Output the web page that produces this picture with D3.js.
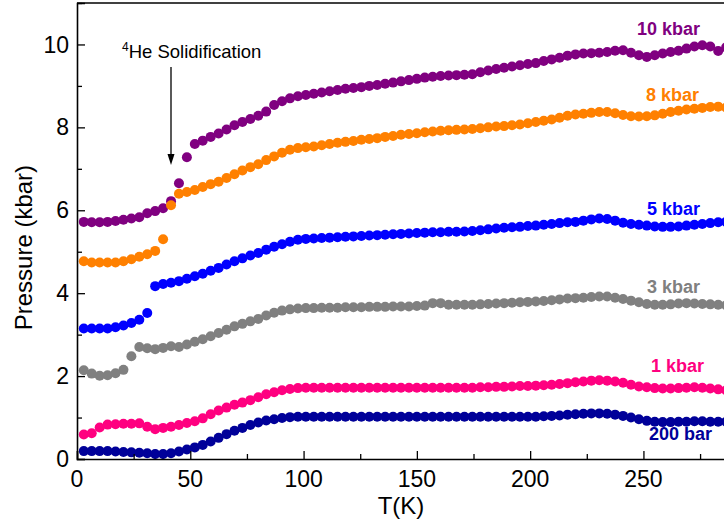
<!DOCTYPE html>
<html>
<head>
<meta charset="utf-8">
<script src="https://cdn.jsdelivr.net/npm/d3@7"></script>
<style>
  body { margin: 0; background: #fff; }
  svg { display: block; }
  text { font-family: "Liberation Sans", Arial, sans-serif; }
</style>
</head>
<body>
<svg width="724" height="528"></svg>
<script>
// temperature grid (K) shared by all runs
const temps = [3,6.5,10,13.5,17,20.5,24,27.5,31,34.5,
  38,41.5,45,48.5,52,55.5,59,62.5,66,69.5,
  73,76.5,80,83.5,87,90.5,94,97.5,101,104.5,
  108,111.5,115,118.5,122,125.5,129,132.5,136,139.5,
  143,146.5,150,153.5,157,160.5,164,167.5,171,174.5,
  178,181.5,185,188.5,192,195.5,199,202.5,206,209.5,
  213,216.5,220,223.5,227,230.5,234,237.5,241,244.5,
  248,251.5,255,258.5,262,265.5,269,272.5,276,279.5,
  283,286.5];

// pressure (kbar) for each run
const p10 = [5.72,5.71,5.71,5.72,5.74,5.77,5.80,5.83,5.93,5.98,
  6.05,6.22,6.65,7.28,7.60,7.68,7.77,7.85,7.95,8.05,
  8.13,8.20,8.28,8.38,8.54,8.63,8.70,8.75,8.78,8.81,
  8.84,8.87,8.90,8.93,8.95,8.97,9.00,9.02,9.05,9.08,
  9.11,9.14,9.17,9.20,9.22,9.24,9.25,9.26,9.27,9.28,
  9.33,9.37,9.41,9.44,9.47,9.50,9.53,9.55,9.60,9.64,
  9.68,9.73,9.76,9.78,9.79,9.80,9.82,9.85,9.86,9.80,
  9.74,9.70,9.74,9.78,9.82,9.85,9.90,9.95,9.98,9.95,
  9.84,9.93];
const p8 = [4.77,4.74,4.74,4.74,4.74,4.77,4.82,4.88,4.94,5.02,
  5.30,6.12,6.40,6.44,6.49,6.56,6.63,6.69,6.78,6.87,
  6.96,7.04,7.11,7.21,7.30,7.39,7.46,7.50,7.52,7.54,
  7.57,7.60,7.63,7.65,7.67,7.70,7.72,7.74,7.77,7.79,
  7.82,7.84,7.86,7.88,7.90,7.92,7.93,7.94,7.95,7.96,
  7.98,8.00,8.02,8.03,8.05,8.07,8.10,8.13,8.16,8.19,
  8.23,8.28,8.31,8.33,8.35,8.37,8.37,8.34,8.30,8.27,
  8.26,8.27,8.29,8.33,8.37,8.40,8.43,8.45,8.47,8.49,
  8.50,8.48];
const p5 = [3.15,3.15,3.15,3.15,3.18,3.22,3.28,3.36,3.52,4.17,
  4.22,4.25,4.29,4.35,4.41,4.47,4.54,4.61,4.69,4.77,
  4.84,4.91,4.97,5.05,5.12,5.18,5.24,5.29,5.31,5.32,
  5.33,5.34,5.35,5.36,5.37,5.38,5.39,5.40,5.41,5.42,
  5.43,5.44,5.45,5.46,5.47,5.47,5.48,5.48,5.49,5.50,
  5.52,5.54,5.56,5.58,5.59,5.60,5.62,5.63,5.65,5.67,
  5.69,5.71,5.72,5.75,5.78,5.80,5.79,5.75,5.70,5.67,
  5.65,5.63,5.61,5.60,5.60,5.61,5.63,5.65,5.67,5.69,
  5.71,5.72];
const p3 = [2.14,2.06,2.01,2.02,2.07,2.15,2.48,2.70,2.67,2.65,
  2.68,2.72,2.70,2.76,2.83,2.89,2.96,3.04,3.12,3.20,
  3.26,3.32,3.38,3.46,3.53,3.58,3.61,3.63,3.64,3.64,
  3.65,3.65,3.65,3.66,3.66,3.66,3.67,3.67,3.67,3.68,
  3.68,3.68,3.69,3.70,3.76,3.76,3.72,3.72,3.72,3.72,
  3.73,3.74,3.75,3.76,3.77,3.78,3.79,3.80,3.81,3.83,
  3.85,3.87,3.88,3.89,3.91,3.92,3.92,3.89,3.86,3.82,
  3.78,3.74,3.72,3.72,3.73,3.75,3.76,3.75,3.74,3.73,
  3.72,3.71];
const p1 = [0.59,0.62,0.76,0.83,0.84,0.85,0.85,0.86,0.78,0.72,
  0.75,0.78,0.82,0.87,0.91,0.98,1.08,1.17,1.24,1.31,
  1.36,1.42,1.49,1.56,1.61,1.66,1.69,1.71,1.72,1.72,
  1.72,1.72,1.72,1.72,1.72,1.72,1.72,1.72,1.72,1.72,
  1.72,1.72,1.72,1.72,1.72,1.72,1.72,1.72,1.72,1.72,
  1.73,1.73,1.74,1.74,1.75,1.76,1.76,1.77,1.78,1.79,
  1.81,1.83,1.85,1.87,1.89,1.90,1.89,1.87,1.84,1.79,
  1.75,1.73,1.71,1.70,1.70,1.71,1.72,1.73,1.72,1.70,
  1.68,1.66];
const p02 = [0.19,0.19,0.19,0.19,0.18,0.17,0.16,0.15,0.14,0.12,
  0.12,0.14,0.18,0.23,0.28,0.34,0.42,0.51,0.60,0.68,
  0.75,0.82,0.88,0.93,0.96,0.99,1.01,1.02,1.02,1.02,
  1.02,1.02,1.02,1.02,1.02,1.02,1.02,1.02,1.02,1.02,
  1.02,1.02,1.02,1.02,1.02,1.02,1.02,1.02,1.02,1.02,
  1.02,1.02,1.02,1.02,1.02,1.02,1.02,1.02,1.03,1.04,
  1.05,1.07,1.08,1.09,1.10,1.10,1.09,1.07,1.04,1.00,
  0.96,0.92,0.90,0.89,0.89,0.90,0.90,0.91,0.91,0.90,
  0.90,0.90];

const seriesNames = ["10 kbar", "8 kbar", "5 kbar", "3 kbar", "1 kbar", "200 bar"];
const seriesColors = ["#800080", "#ff8000", "#0000ff", "#808080", "#ff0080", "#000099"];
const seriesValues = [p10, p8, p5, p3, p1, p02];

const xTicks = [0, 50, 100, 150, 200, 250];
const yTicks = [0, 2, 4, 6, 8, 10];

const chart = () => {
    const width = 724;
    const height = 528;
    const margin = { top: 3, right: -1, bottom: 69, left: 77 };

    const svg = d3.select("svg");

    const x = d3.scaleLinear()
        .domain([0, 286])
        .range([margin.left, width - margin.right]);

    const y = d3.scaleLinear()
        .domain([0, 11])
        .range([height - margin.bottom, margin.top]);

    // clip for the dots
    svg.append("clipPath").attr("id", "plot")
      .append("rect")
        .attr("x", margin.left)
        .attr("y", margin.top)
        .attr("width", width - margin.left)
        .attr("height", height - margin.bottom - margin.top);

    // data points
    seriesValues.forEach((vals, i) => {
        svg.append("g")
            .attr("clip-path", "url(#plot)")
            .attr("fill", seriesColors[i])
          .selectAll("circle")
          .data(temps.map((t, j) => ({ t: t, p: vals[j] })))
          .join("circle")
            .attr("cx", d => x(d.t))
            .attr("cy", d => y(d.p))
            .attr("r", 5);
    });

    // axes (ticks inside)
    const xAxis = g => g
        .attr("transform", `translate(0,${y(0)})`)
        .call(d3.axisBottom(x).tickValues(d3.range(0, 286, 25)).tickSize(-8).tickFormat(""))
        .call(g => g.selectAll(".tick line").attr("y2", (d) => d % 50 === 0 ? -8 : -5))
        .call(g => g.select(".domain").attr("stroke-width", 1.6));

    const yAxis = g => g
        .attr("transform", `translate(${margin.left},0)`)
        .call(d3.axisLeft(y).tickValues(d3.range(0, 11.1, 1)).tickSize(-8).tickFormat(""))
        .call(g => g.selectAll(".tick line").attr("x2", (d) => d % 2 === 0 ? 8 : 5))
        .call(g => g.select(".domain").attr("stroke-width", 1.6));

    svg.append("g").call(xAxis);
    svg.append("g").call(yAxis);

    svg.selectAll(".tick line").attr("stroke-width", 1.3);

    // top frame
    svg.append("line")
        .attr("x1", margin.left).attr("x2", width)
        .attr("y1", y(11)).attr("y2", y(11))
        .attr("stroke", "#000").attr("stroke-width", 1.6);

    // tick labels
    svg.append("g")
        .attr("text-anchor", "middle")
        .style("font-size", "23px")
      .selectAll("text")
      .data(xTicks)
      .join("text")
        .attr("x", d => x(d))
        .attr("y", y(0) + 28)
        .text(d => d);

    svg.append("g")
        .attr("text-anchor", "end")
        .style("font-size", "23px")
      .selectAll("text")
      .data(yTicks)
      .join("text")
        .attr("x", margin.left - 8)
        .attr("y", d => y(d))
        .attr("dy", "0.35em")
        .text(d => d);

    // axis titles
    svg.append("text")
        .attr("x", x(143))
        .attr("y", 514)
        .attr("text-anchor", "middle")
        .style("font-size", "24px")
        .text("T(K)");

    svg.append("text")
        .attr("transform", `translate(32,${y(5.1)}) rotate(-90)`)
        .attr("text-anchor", "middle")
        .style("font-size", "24px")
        .text("Pressure (kbar)");

    // series labels
    const labelY = [10.23, 8.64, 5.89, 4.0, 2.1, 0.45];
    const labelX = [700, 699, 700, 700, 704, 712];
    svg.append("g")
        .attr("text-anchor", "end")
        .style("font-size", "18px")
        .style("font-weight", "bold")
      .selectAll("text")
      .data(seriesNames)
      .join("text")
        .attr("x", (d, i) => labelX[i])
        .attr("y", (d, i) => y(labelY[i]))
        .attr("fill", (d, i) => seriesColors[i])
        .text(d => d);

    // annotation
    const note = svg.append("text")
        .attr("x", 122)
        .attr("y", 58)
        .style("font-size", "18.5px");
    note.append("tspan").attr("dy", -7).style("font-size", "12px").text("4");
    note.append("tspan").attr("dy", 7).text("He Solidification");

    svg.append("line")
        .attr("x1", 171).attr("x2", 171)
        .attr("y1", 67).attr("y2", 156)
        .attr("stroke", "#000").attr("stroke-width", 1.3);
    svg.append("path")
        .attr("d", "M167.5,154 L174.5,154 L171,165 Z")
        .attr("fill", "#000");
};

chart();
</script>
</body>
</html>
